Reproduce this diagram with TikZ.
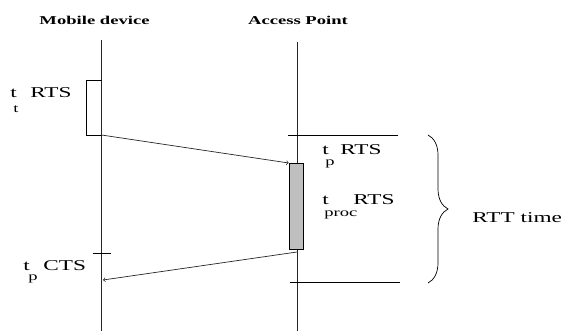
\documentclass[tikz,border=0pt]{standalone}
\usepackage{fontspec}
\setmainfont{Liberation Serif}
\usetikzlibrary{decorations.pathreplacing}
\newcommand{\wide}[1]{\scalebox{1.55}[1]{#1}}
\tikzset{
  lbl/.style={anchor=base west,inner sep=0pt,font=\fontsize{15}{15}\selectfont},
  sub/.style={anchor=base west,inner sep=0pt,font=\fontsize{12}{12}\selectfont},
  head/.style={anchor=base,inner sep=0pt,font=\fontsize{12}{12}\selectfont\bfseries},
  life/.style={draw=black!85,line width=0.9pt},
  msg/.style={draw=black!85,line width=0.7pt,->,>=to},
}
\begin{document}
\begin{tikzpicture}[x=1pt,y=-1pt,line width=0.7pt]
  \useasboundingbox (0,0) rectangle (565,331);
  % lifelines
  \node[head] (mob) at (94.5,25) {\wide{Mobile device}};
  \node[head] (ap) at (298,25) {\wide{Access Point}};
  \coordinate (mobtop) at (101.5,40);
  \coordinate (mobbot) at (101.5,331);
  \coordinate (aptop) at (297,42);
  \coordinate (apbot) at (297,331);
  \draw[life] (mobtop) -- (mobbot);
  \draw[life] (aptop) -- (apbot);
  % RTS leaves the mobile
  \coordinate (sendtop) at (101.5,80);
  \coordinate (sendbot) at (101.5,135);
  \draw (sendtop) -- ++(-15.5,0) |- (sendbot);
  \node[draw,fill=gray!50,minimum width=14pt,minimum height=86pt,inner sep=0pt,anchor=north] (proc) at (296,163) {};
  \draw[msg] (sendbot) -- (proc.north west);
  % CTS comes back
  \coordinate (reply) at (297,252);
  \coordinate (cts) at (103,280);
  \draw[msg] (reply) -- (cts);
  \coordinate (tick) at (101.5,253);
  \draw (tick) ++(-9,0) -- ++(18,0);
  % RTT window
  \coordinate (rttstart) at (288,135);
  \coordinate (rttend) at (290,282);
  \draw (rttstart) -- ++(110,0);
  \draw (rttend) -- ++(110,0);
  \draw[decorate,decoration={brace,amplitude=20pt}] (428,135) -- (428,283);
  \node[lbl] (rtt) at (472,223) {\wide{RTT time}};
  % labels
  \node[lbl] (tt) at (10,98) {\wide{t}};
  \node[sub] (ttsub) at (13,113) {\wide{t}};
  \node[lbl] (ttrts) at (30,98) {\wide{RTS}};
  \node[lbl] (tp) at (322,155) {\wide{t}};
  \node[sub] (tpsub) at (325,166) {\wide{p}};
  \node[lbl] (tprts) at (340,155) {\wide{RTS}};
  \node[lbl] (tproc) at (322,205) {\wide{t}};
  \node[sub] (tprocsub) at (324,217) {\wide{proc}};
  \node[lbl] (tprocrts) at (353,205) {\wide{RTS}};
  \node[lbl] (tc) at (23,270) {\wide{t}};
  \node[sub] (tcsub) at (28,280) {\wide{p}};
  \node[lbl] (tccts) at (43,270) {\wide{CTS}};
\end{tikzpicture}
\end{document}
